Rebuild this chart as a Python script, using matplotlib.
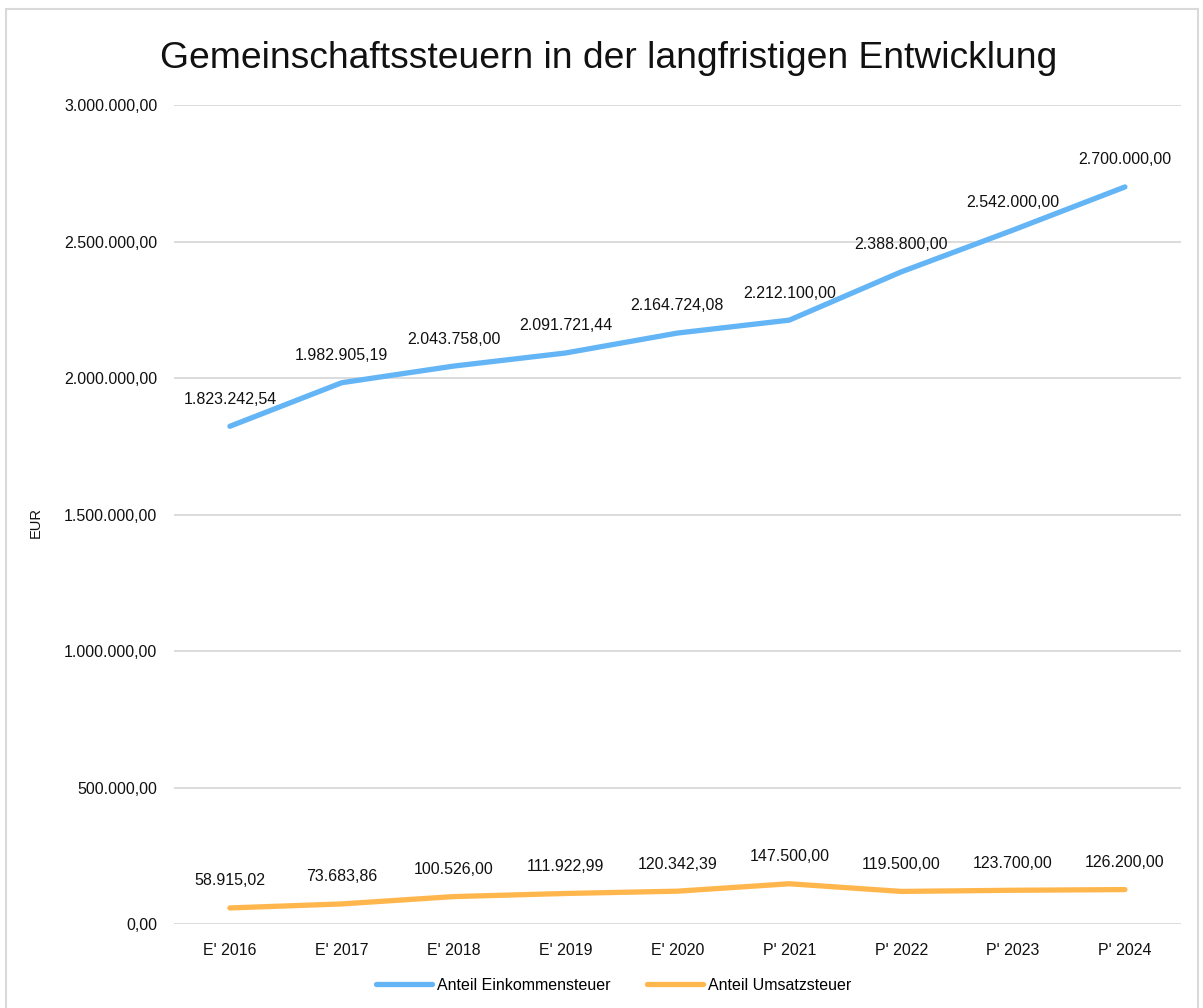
import matplotlib.pyplot as plt
import matplotlib.patches as patches
from matplotlib.ticker import FuncFormatter, MultipleLocator

plt.rcParams['font.family'] = ['Liberation Sans', 'DejaVu Sans']

categories = ["E' 2016", "E' 2017", "E' 2018", "E' 2019", "E' 2020",
              "P' 2021", "P' 2022", "P' 2023", "P' 2024"]
einkommensteuer = [1823242.54, 1982905.19, 2043758.00, 2091721.44, 2164724.08,
                   2212100.00, 2388800.00, 2542000.00, 2700000.00]
umsatzsteuer = [58915.02, 73683.86, 100526.00, 111922.99, 120342.39,
                147500.00, 119500.00, 123700.00, 126200.00]

BLUE = '#64b5f6'
ORANGE = '#ffb74d'


def de_fmt(v, pos=None):
    s = f"{v:,.2f}"
    return s.replace(',', 'X').replace('.', ',').replace('X', '.')


fig = plt.figure(figsize=(12.03, 10.08), dpi=100)
ax = fig.add_axes([0.1446, 0.0833, 0.837, 0.8125])

x = list(range(len(categories)))
ax.plot(x, einkommensteuer, color=BLUE, lw=3.8, solid_capstyle='round',
        solid_joinstyle='round', label='Anteil Einkommensteuer')
ax.plot(x, umsatzsteuer, color=ORANGE, lw=3.8, solid_capstyle='round',
        solid_joinstyle='round', label='Anteil Umsatzsteuer')

for series in (einkommensteuer, umsatzsteuer):
    for xi, v in zip(x, series):
        ax.annotate(de_fmt(v), (xi, v), xytext=(0, 19.5), textcoords='offset points',
                    ha='center', va='center', fontsize=11.5, color='#111111')

ax.set_xlim(-0.5, len(categories) - 0.5)
ax.set_ylim(0, 3000000)
ax.yaxis.set_major_locator(MultipleLocator(500000))
ax.yaxis.set_major_formatter(FuncFormatter(de_fmt))
ax.set_xticks(x)
ax.set_xticklabels(categories)
ax.tick_params(length=0, labelsize=11.5, colors='#111111', pad=14)
ax.tick_params(axis='y', pad=12)
ax.grid(axis='y', color='#d9d9d9', lw=1.3)
ax.set_axisbelow(True)
for s in ax.spines.values():
    s.set_visible(False)

ax.set_ylabel('EUR', fontsize=10.5, color='#111111')
ax.yaxis.set_label_coords(-0.13, 0.49)

fig.text(0.506, 0.942, 'Gemeinschaftssteuern in der langfristigen Entwicklung',
         ha='center', va='center', fontsize=26.8, color='#111111')

fig.legend(loc='center', bbox_to_anchor=(0.51, 1 - 985 / 1008), ncol=2,
           frameon=False, fontsize=11.5, handlelength=3.5, columnspacing=2.3,
           handletextpad=0.3)

# light border around the chart
fig.patches.append(patches.Rectangle((6 / 1203, -0.02), 1192 / 1203, 1.02 - 9 / 1008,
                                     transform=fig.transFigure, fill=False,
                                     edgecolor='#d9d9d9', lw=1.5))

plt.savefig('out.png', dpi=100)
